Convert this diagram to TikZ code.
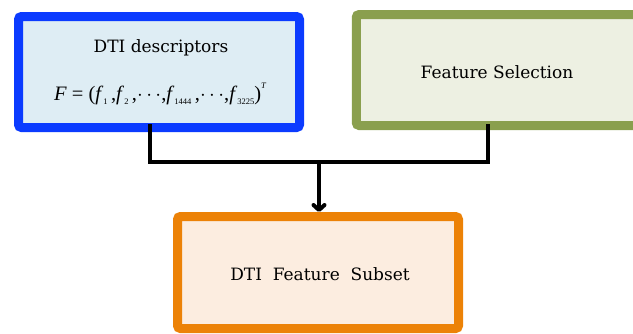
\documentclass[tikz,border=0pt]{standalone}
\usepackage{fontspec}
\setmainfont{DejaVu Serif}
\newfontfamily\eqfont{Liberation Serif}
\usetikzlibrary{arrows.meta,shadows}

\definecolor{blueedge}{HTML}{0B3BFF}
\definecolor{bluefill}{HTML}{DEEDF4}
\definecolor{greenedge}{HTML}{8A9F4E}
\definecolor{greenfill}{HTML}{EDF0E2}
\definecolor{orangeedge}{HTML}{EC8207}
\definecolor{orangefill}{HTML}{FCEDE0}

% small lowered / raised indices in the formula
\newcommand\lowidx[1]{\raisebox{-0.45ex}{\fontsize{8.5}{8.5}\selectfont #1}}
\newcommand\highidx[1]{\raisebox{1.3ex}{\fontsize{8.5}{8.5}\selectfont\itshape #1}}

\tikzset{
  panel/.style={draw, line width=9pt, rounded corners=3pt, outer sep=0pt,
    inner sep=0pt,
    drop shadow={opacity=0.25, shadow xshift=1.5pt, shadow yshift=-2pt}},
  txt/.style={font=\fontsize{17}{19}\selectfont, inner sep=0pt},
  eqtxt/.style={font=\eqfont\fontsize{20.5}{22}\selectfont, inner sep=0pt},
  conn/.style={line width=4pt, draw=black},
}

\begin{document}
\begin{tikzpicture}[x=1pt,y=-1pt]
  \useasboundingbox (0,0) rectangle (633,333);

  % the three boxes
  \node[panel, draw=blueedge, fill=bluefill,
        minimum width=281pt, minimum height=111pt] (desc) at (159,72) {};
  \node[panel, draw=greenedge, fill=greenfill,
        minimum width=283.5pt, minimum height=111pt] (sel) at (498,70) {};
  \node[panel, draw=orangeedge, fill=orangefill,
        minimum width=281pt, minimum height=112pt] (subset) at (318,272.5) {};

  % texts
  \node[txt] (desctitle) at (161,48) {DTI descriptors};
  \node[eqtxt] (descformula) at (160,94)
    {\textit{F} = (\textit{f}\lowidx{1}\,,\textit{f}\lowidx{2}\,,$\cdots$,\textit{f}\lowidx{1444}\,,$\cdots$,\textit{f}\lowidx{3225})\highidx{T}};
  \node[txt] (seltitle) at (497,72) {Feature Selection};
  \node[txt] (subsettitle) at (320,274) {DTI\ \ Feature\ \ Subset};

  % merging connector
  \coordinate (join) at (319,161.5);
  \draw[conn] ([xshift=-9.5pt,yshift=3.5pt]desc.south) |- (join)
              -| ([xshift=-10pt,yshift=1.5pt]sel.south);
  \draw[conn, -{Straight Barb[round,length=5pt,width=11pt]}]
    (join) -- ([yshift=4.5pt]join |- subset.north);
\end{tikzpicture}
\end{document}
